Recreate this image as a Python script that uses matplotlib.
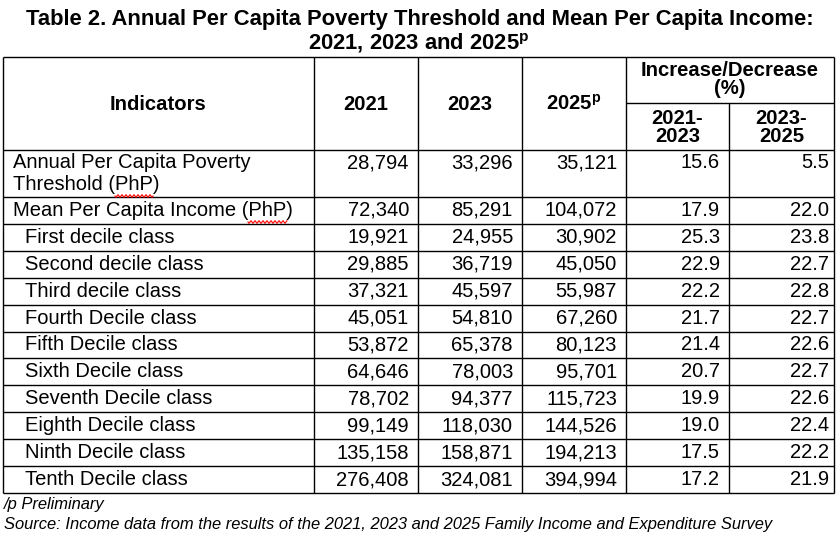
import matplotlib
matplotlib.use("Agg")
import matplotlib.pyplot as plt
import numpy as np

plt.rcParams['font.family'] = ['Liberation Sans', 'DejaVu Sans']
plt.rcParams['mathtext.fontset'] = 'custom'
plt.rcParams['mathtext.rm'] = 'Liberation Sans'
plt.rcParams['mathtext.bf'] = 'Liberation Sans:bold'

# table data
indicators = [
    "Annual Per Capita Poverty\nThreshold (PhP)",
    "Mean Per Capita Income (PhP)",
    "First decile class",
    "Second decile class",
    "Third decile class",
    "Fourth Decile class",
    "Fifth Decile class",
    "Sixth Decile class",
    "Seventh Decile class",
    "Eighth Decile class",
    "Ninth Decile class",
    "Tenth Decile class",
]
indent = [False, False] + [True] * 10
v2021 = [28794, 72340, 19921, 29885, 37321, 45051, 53872, 64646, 78702, 99149, 135158, 276408]
v2023 = [33296, 85291, 24955, 36719, 45597, 54810, 65378, 78003, 94377, 118030, 158871, 324081]
v2025 = [35121, 104072, 30902, 45050, 55987, 67260, 80123, 95701, 115723, 144526, 194213, 394994]
chg_21_23 = [15.6, 17.9, 25.3, 22.9, 22.2, 21.7, 21.4, 20.7, 19.9, 19.0, 17.5, 17.2]
chg_23_25 = [5.5, 22.0, 23.8, 22.7, 22.8, 22.7, 22.6, 22.7, 22.6, 22.4, 22.2, 21.9]

title_lines = ["Table 2. Annual Per Capita Poverty Threshold and Mean Per Capita Income:",
               "2021, 2023 and 2025$^{\\mathbf{p}}$"]
year_heads = ["2021", "2023", "2025$^{\\mathbf{p}}$"]
pct_heads = ["2021-\n2023", "2023-\n2025"]
notes = ["/p Preliminary",
         "Source: Income data from the results of the 2021, 2023 and 2025 Family Income and Expenditure Survey"]

W, H = 837, 542
fig = plt.figure(figsize=(W / 100, H / 100), dpi=100)
ax = fig.add_axes([0, 0, 1, 1])
ax.set_xlim(0, W)
ax.set_ylim(H, 0)
ax.axis("off")

body_fs = 14.5
head_fs = 14.6
title_fs = 15.8
note_fs = 11.9

# grid geometry (pixels)
col_x = [3, 314, 418, 522, 626, 729, 834]
top, head_bot, sub_y = 57, 150, 103
row_y = [150, 197] + list(np.linspace(197, 493, 12)[1:])
bottom = row_y[-1]

lw = 1.0
ax.hlines([top, head_bot] + row_y[1:], col_x[0], col_x[-1], color="black", lw=lw)
ax.hlines(sub_y, col_x[4], col_x[-1], color="black", lw=lw)
for i, x in enumerate(col_x):
    y0 = sub_y if i == 5 else top
    ax.vlines(x, y0, bottom, color="black", lw=lw)

# title
ax.text(W / 2 + 1, 20, title_lines[0], ha="center", va="center",
        fontsize=title_fs, fontweight="bold")
ax.text(W / 2, 43, title_lines[1], ha="center", va="center",
        fontsize=title_fs, fontweight="bold")

# headers
hc = 104
ax.text((col_x[0] + col_x[1]) / 2, hc, "Indicators", ha="center", va="center",
        fontsize=head_fs, fontweight="bold")
for i, h in enumerate(year_heads):
    ax.text((col_x[i + 1] + col_x[i + 2]) / 2, hc, h, ha="center", va="center",
            fontsize=head_fs, fontweight="bold")
mid_pct = (col_x[4] + col_x[6]) / 2
ax.text(mid_pct, 70, "Increase/Decrease", ha="center", va="center",
        fontsize=head_fs, fontweight="bold")
ax.text(mid_pct, 88, "(%)", ha="center", va="center",
        fontsize=head_fs, fontweight="bold")
for i, h in enumerate(pct_heads):
    for k, part in enumerate(h.split("\n")):
        ax.text((col_x[4 + i] + col_x[5 + i]) / 2, 118 + 19 * k, part,
                ha="center", va="center", fontsize=head_fs, fontweight="bold")

# body rows
pad_r = [9, 9, 9, 9, 5]
for r, name in enumerate(indicators):
    if r == 0:
        yc = 163
        for k, part in enumerate(name.split("\n")):
            ax.text(13, yc + 22 * k, part, ha="left", va="center",
                    fontsize=body_fs)
    else:
        yc = (row_y[r] + row_y[r + 1]) / 2
        ax.text(25 if indent[r] else 13, yc, name, ha="left", va="center",
                fontsize=body_fs)
    vals = [f"{v2021[r]:,}", f"{v2023[r]:,}", f"{v2025[r]:,}",
            f"{chg_21_23[r]:.1f}", f"{chg_23_25[r]:.1f}"]
    for c, s in enumerate(vals):
        ax.text(col_x[c + 2] - pad_r[c], yc, s, ha="right", va="center",
                fontsize=body_fs)

# spell-check squiggles under "PhP"
def squiggle(x0, x1, y):
    xs = np.linspace(x0, x1, int((x1 - x0) * 3))
    ax.plot(xs, y + 1.2 * np.sin((xs - x0) * np.pi / 2), color="red", lw=0.8)

squiggle(115, 153, 196)
squiggle(248, 287, 222)

# footnotes
ax.text(4, 504, notes[0], ha="left", va="center", fontsize=note_fs, style="italic")
ax.text(4, 525, notes[1], ha="left", va="center", fontsize=note_fs, style="italic")

fig.savefig("out.png", dpi=100)
